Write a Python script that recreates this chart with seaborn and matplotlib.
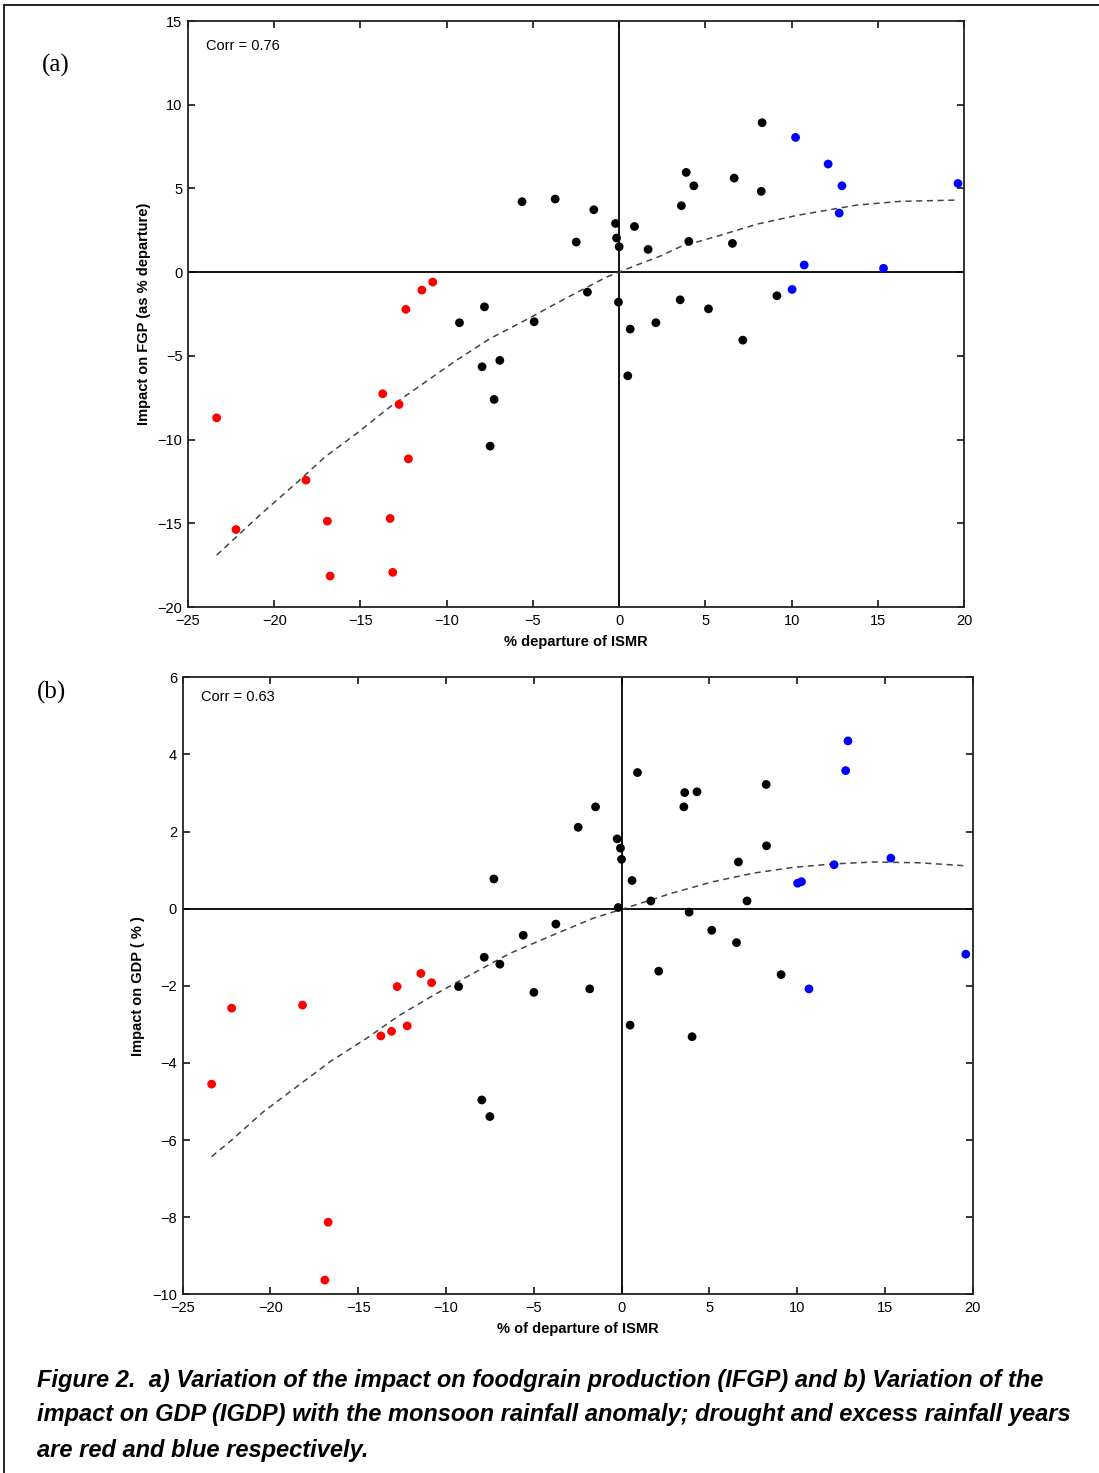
import numpy as np
import pandas as pd
import matplotlib
matplotlib.use("Agg")
import matplotlib.pyplot as plt
import seaborn as sns

# ---- panel (a): impact on foodgrain production vs ISMR departure ----
fgp_drought_x = [-23.34, -22.22, -18.16, -16.92, -16.76, -13.71, -12.76, -12.22, -13.28, -13.13, -12.37, -11.44, -10.81]
fgp_drought_y = [-8.70, -15.37, -12.42, -14.87, -18.15, -7.26, -7.90, -11.15, -14.71, -17.93, -2.22, -1.07, -0.59]

fgp_normal_x = [-9.26, -7.81, -7.95, -6.92, -7.25, -7.48, -4.93, -1.84, -0.04, 8.29, 3.89, 4.33, 6.67, 8.24,
                -5.63, -3.71, -1.47, 3.61, -0.21, 0.89, -0.15, 0.00, -2.49, 1.68, 4.04, 6.57,
                3.54, 5.18, 2.13, 0.64, 7.17, 0.50, 9.15]
fgp_normal_y = [-3.02, -2.07, -5.65, -5.27, -7.60, -10.39, -2.96, -1.19, -1.79, 8.93, 5.96, 5.16, 5.62, 4.83,
                4.21, 4.37, 3.73, 3.97, 2.91, 2.73, 2.04, 1.52, 1.80, 1.36, 1.84, 1.72,
                -1.65, -2.19, -3.02, -3.40, -4.06, -6.19, -1.41]

fgp_excess_x = [10.23, 12.12, 12.92, 19.65, 12.76, 10.73, 15.33, 10.03]
fgp_excess_y = [8.05, 6.46, 5.16, 5.30, 3.53, 0.43, 0.23, -1.03]

fgp_fit_x = [-23.34, -20.73, -18.79, -17.05, -15.22, -13.28, -11.35, -9.42, -7.48, -5.35, -3.23, -0.71,
             1.03, 2.38, 3.54, 5.76, 7.99, 10.40, 13.79, 16.30, 19.65]
fgp_fit_y = [-16.9, -14.41, -12.66, -11.03, -9.63, -8.04, -6.64, -5.25, -3.96, -2.82, -1.63, -0.28,
             0.43, 0.96, 1.52, 2.17, 2.87, 3.41, 4.01, 4.23, 4.31]

# ---- panel (b): impact on GDP vs ISMR departure ----
gdp_drought_x = [-23.35, -22.21, -18.17, -16.71, -16.90, -13.71, -13.10, -12.21, -12.78, -11.43, -10.82]
gdp_drought_y = [-4.55, -2.58, -2.50, -8.13, -9.63, -3.30, -3.18, -3.04, -2.02, -1.68, -1.92]

gdp_normal_x = [-7.27, -2.47, -1.48, -0.25, -0.06, 0.00, -0.19, -3.74, -5.60, -7.82, -6.93, -9.28, -4.99,
                -1.81, -7.96, -7.50, 0.91, 3.60, 4.30, 3.55, 8.24, 8.26, 6.66, 0.60, 1.67, 7.15,
                3.85, 5.14, 6.55, 2.12, 9.09, 0.49, 4.02]
gdp_normal_y = [0.77, 2.11, 2.64, 1.81, 1.57, 1.28, 0.03, -0.40, -0.69, -1.26, -1.44, -2.02, -2.17,
                -2.08, -4.96, -5.39, 3.53, 3.01, 3.03, 2.64, 3.22, 1.63, 1.21, 0.73, 0.20, 0.20,
                -0.09, -0.56, -0.88, -1.62, -1.71, -3.02, -3.32]

gdp_excess_x = [12.90, 12.77, 15.34, 12.11, 10.03, 10.25, 10.68, 19.61]
gdp_excess_y = [4.35, 3.58, 1.31, 1.14, 0.66, 0.70, -2.08, -1.18]

gdp_fit_x = [-23.35, -22.21, -20.41, -18.51, -16.61, -14.52, -12.63, -10.54, -8.26, -6.36, -3.89, -1.62,
             0.47, 2.85, 5.22, 7.49, 9.77, 12.05, 14.33, 16.99, 19.65]
gdp_fit_y = [-6.43, -6.00, -5.27, -4.62, -3.97, -3.36, -2.76, -2.20, -1.63, -1.16, -0.68, -0.25,
             0.05, 0.40, 0.70, 0.92, 1.07, 1.16, 1.21, 1.19, 1.11]

groups = ["drought", "normal", "excess"]
colors = {"drought": "#ff0000", "normal": "#000000", "excess": "#0000ff"}

sns.set_theme(style="ticks")
plt.rcParams["font.family"] = ["Liberation Sans", "DejaVu Sans"]
plt.rcParams["axes.unicode_minus"] = True
for key in ["text.color", "axes.labelcolor", "xtick.color", "ytick.color"]:
    plt.rcParams[key] = "black"


def make_frame(xs, ys):
    rows = []
    for g, x, y in zip(groups, xs, ys):
        for a, b in zip(x, y):
            rows.append({"ismr": a, "impact": b, "kind": g})
    return pd.DataFrame(rows)


def draw_panel(ax, df, fit_x, fit_y, ylim, yticks, corr, corr_y, xlabel, ylabel):
    ax.axhline(0, color="black", lw=1.3, zorder=1)
    ax.axvline(0, color="black", lw=1.3, zorder=1)
    sns.lineplot(x=fit_x, y=fit_y, ax=ax, color="#444444", lw=1.1,
                 linestyle=(0, (4, 3)), zorder=2)
    sns.scatterplot(data=df, x="ismr", y="impact", hue="kind", palette=colors,
                    s=40, edgecolor="none", legend=False, ax=ax, zorder=3)
    ax.set_xlim(-25, 20)
    ax.set_ylim(*ylim)
    ax.set_xticks(np.arange(-25, 21, 5))
    ax.set_yticks(yticks)
    ax.tick_params(direction="in", length=5, width=1.1, top=True, right=True,
                   labelsize=10.5)
    ax.tick_params(axis="x", pad=5)
    ax.tick_params(axis="y", pad=4)
    for sp in ax.spines.values():
        sp.set_linewidth(1.3)
        sp.set_color("#222222")
    ax.set_xlabel(xlabel, fontsize=10.5, fontweight="bold", labelpad=5)
    ax.set_ylabel(ylabel, fontsize=10.5, fontweight="bold", labelpad=5)
    ax.text(0.023, corr_y, corr, transform=ax.transAxes, fontsize=10.5,
            ha="left", va="center")


fig = plt.figure(figsize=(10.99, 14.73), dpi=100)

ax_a = fig.add_axes([0.1711, 0.5879, 0.7061, 0.3978])
df_a = make_frame([fgp_drought_x, fgp_normal_x, fgp_excess_x],
                  [fgp_drought_y, fgp_normal_y, fgp_excess_y])
draw_panel(ax_a, df_a, fgp_fit_x, fgp_fit_y, (-20, 15), np.arange(-20, 16, 5),
           "Corr = 0.76", 0.957, "% departure of ISMR", "Impact on FGP (as % departure)")

ax_b = fig.add_axes([0.1662, 0.1213, 0.7188, 0.4189])
df_b = make_frame([gdp_drought_x, gdp_normal_x, gdp_excess_x],
                  [gdp_drought_y, gdp_normal_y, gdp_excess_y])
draw_panel(ax_b, df_b, gdp_fit_x, gdp_fit_y, (-10, 6), np.arange(-10, 7, 2),
           "Corr = 0.63", 0.968, "% of departure of ISMR", "Impact on GDP ( % )")

fig.text(56 / 1099, 1 - 65 / 1473, "(a)", family="Liberation Serif", fontsize=18,
         ha="center", va="center")
fig.text(51 / 1099, 1 - 692 / 1473, "(b)", family="Liberation Serif", fontsize=18,
         ha="center", va="center")

caption = [
    "Figure 2.  a) Variation of the impact on foodgrain production (IFGP) and b) Variation of the",
    "impact on GDP (IGDP) with the monsoon rainfall anomaly; drought and excess rainfall years",
    "are red and blue respectively.",
]
for i, line in enumerate(caption):
    fig.text(37 / 1099, 1 - (1380 + 35 * i) / 1473, line, fontsize=17,
             fontweight="bold", fontstyle="italic", ha="left", va="center")

# open frame around the figure (top and left edges)
fig.add_artist(plt.Line2D([4 / 1099, 1], [1 - 5 / 1473, 1 - 5 / 1473], color="black",
                          lw=1.2, transform=fig.transFigure))
fig.add_artist(plt.Line2D([4 / 1099, 4 / 1099], [0, 1 - 5 / 1473], color="black",
                          lw=1.2, transform=fig.transFigure))

fig.savefig("out.png", dpi=100, facecolor="white")
